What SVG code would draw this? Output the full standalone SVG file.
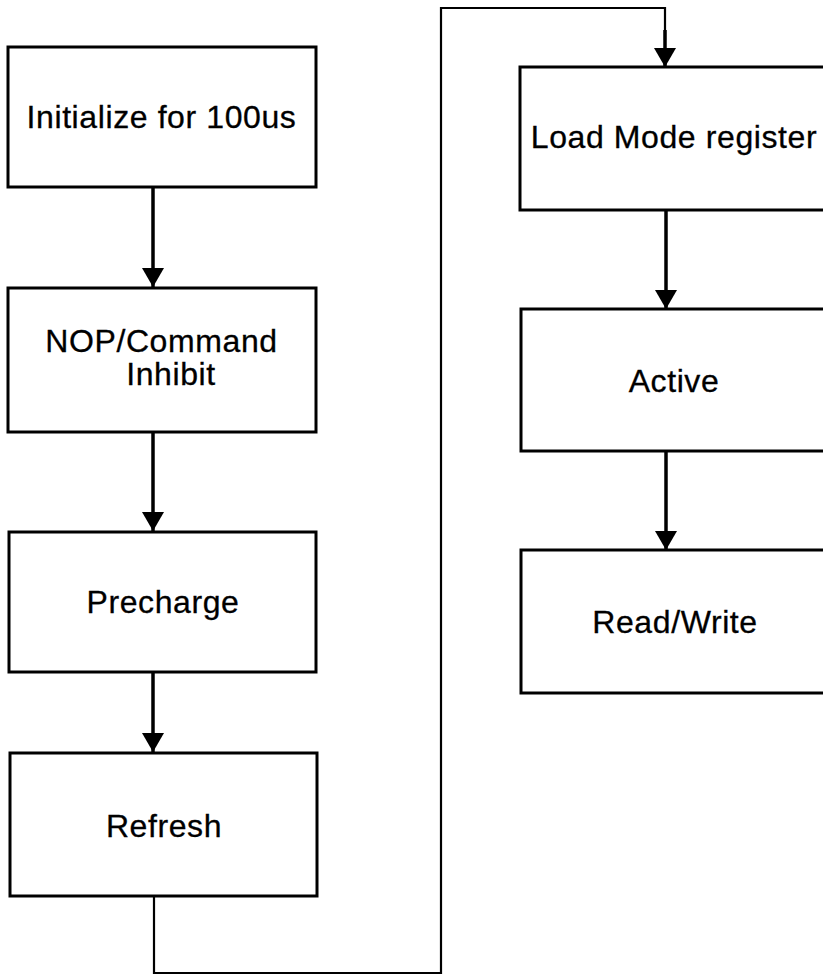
<svg xmlns="http://www.w3.org/2000/svg" width="823" height="975" viewBox="0 0 823 975">
<style>
.box{fill:#fff;stroke:#000;stroke-width:3}
.lbl{font-family:"Liberation Sans",Arial,sans-serif;font-size:32px;letter-spacing:0.6px;fill:#000;stroke:#000;stroke-width:0.3;text-anchor:middle}
.arr{fill:none;stroke:#000;stroke-width:3.5}
.loop{fill:none;stroke:#000;stroke-width:2.2}
</style>
<defs>
<marker id="ah" markerUnits="userSpaceOnUse" markerWidth="20" markerHeight="22" viewBox="0 0 20 22" refX="19" refY="11" orient="auto">
<path d="M0,0 L19,11 L0,22 z" fill="#000"/>
</marker>
</defs>
<rect width="823" height="975" fill="#fff"/>
<g id="connectors">
<path class="arr" d="M153,187 V287" marker-end="url(#ah)"/>
<path class="arr" d="M153,432 V531" marker-end="url(#ah)"/>
<path class="arr" d="M153,672 V752" marker-end="url(#ah)"/>
<path class="loop" d="M154,896 V973 H441 V8 H665 V40"/>
<path class="arr" d="M665,30 V67" marker-end="url(#ah)"/>
<path class="arr" d="M666,210 V309" marker-end="url(#ah)"/>
<path class="arr" d="M666,451 V550" marker-end="url(#ah)"/>
</g>
<g id="n1"><rect class="box" x="8" y="47" width="308" height="140"/><text class="lbl" x="161.5" y="128">Initialize for 100us</text></g>
<g id="n2"><rect class="box" x="8" y="288" width="308" height="144"/><text class="lbl" x="161.5" y="352">NOP/Command</text><text class="lbl" x="171" y="385">Inhibit</text></g>
<g id="n3"><rect class="box" x="9" y="532" width="307" height="140"/><text class="lbl" x="163" y="613">Precharge</text></g>
<g id="n4"><rect class="box" x="10" y="753" width="307" height="143"/><text class="lbl" x="164" y="837">Refresh</text></g>
<g id="n5"><rect class="box" x="520" y="67" width="320" height="143"/><text class="lbl" x="674" y="148">Load Mode register</text></g>
<g id="n6"><rect class="box" x="521" y="309" width="320" height="142"/><text class="lbl" x="674" y="392">Active</text></g>
<g id="n7"><rect class="box" x="521" y="550" width="320" height="143"/><text class="lbl" x="675" y="633">Read/Write</text></g>
</svg>
